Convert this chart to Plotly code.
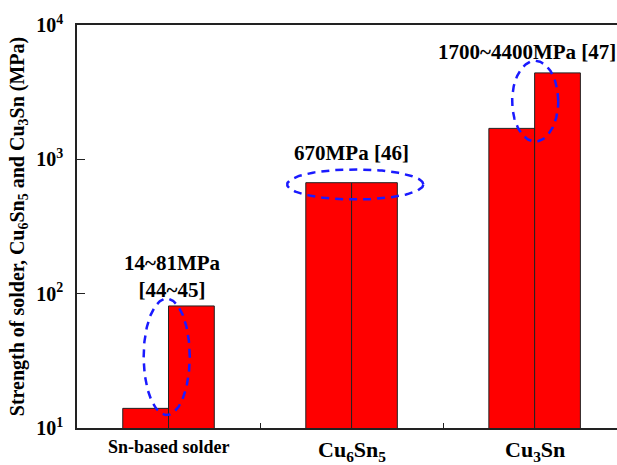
import numpy as np
import plotly.graph_objects as go

# ---- data ----
categories = ["Sn-based solder", "Cu<sub>6</sub>Sn<sub>5</sub>", "Cu<sub>3</sub>Sn"]
cat_pos = [0, 1, 2]
strength_min = [14, 670, 1700]
strength_max = [81, 670, 4400]
ytick_vals = [10, 100, 1000, 10000]
ytick_text = ["10<sup>1</sup>", "10<sup>2</sup>", "10<sup>3</sup>", "10<sup>4</sup>"]
labels = ["14~81MPa<br>[44~45]", "670MPa [46]", "1700~4400MPa [47]"]

FONT = "Liberation Serif"
RED = "#ff0000"
EDGE = "#222222"

fig = go.Figure()
fig.add_trace(go.Bar(x=cat_pos, y=strength_min, marker=dict(color=RED, line=dict(color=EDGE, width=1)),
                     showlegend=False, hoverinfo="skip"))
fig.add_trace(go.Bar(x=cat_pos, y=strength_max, marker=dict(color=RED, line=dict(color=EDGE, width=1)),
                     showlegend=False, hoverinfo="skip"))

# dashed ellipses (centre x, centre log10 y, half-width, half-height in decades)
ellipses = [(-0.01, 1.53, 0.126, 0.433), (1.02, 2.813, 0.372, 0.112), (2.003, 3.433, 0.126, 0.30)]
t = np.linspace(0, 2 * np.pi, 200)
for cx, cy, rx, ry in ellipses:
    fig.add_trace(go.Scatter(x=cx + rx * np.cos(t), y=10 ** (cy + ry * np.sin(t)), mode="lines",
                             line=dict(color="#1a1aff", width=2.5, dash="8px,6px"),
                             showlegend=False, hoverinfo="skip"))

# value labels
label_pos = [(0.02, 0.375), (1.0, 0.682), (1.96, 0.933)]
for (lx, ly), txt in zip(label_pos, labels):
    fig.add_annotation(x=lx, y=ly, xref="x", yref="paper", text="<b>" + txt + "</b>", showarrow=False,
                       font=dict(family=FONT, size=21, color="black"), xanchor="center", yanchor="middle")

# category labels
cat_sizes = [18, 22, 22]
for xp, name, fs in zip(cat_pos, categories, cat_sizes):
    fig.add_annotation(x=xp, y=0, xref="x", yref="paper", text="<b>" + name + "</b>", showarrow=False,
                       font=dict(family=FONT, size=fs, color="black"), xanchor="center", yanchor="top",
                       yshift=-7)

fig.update_layout(
    width=617, height=465,
    margin=dict(l=77, r=0, t=25, b=37),
    paper_bgcolor="white", plot_bgcolor="white",
    barmode="group", bargap=0.5, bargroupgap=0,
    font=dict(family=FONT, color="black"),
)
fig.update_xaxes(range=[-0.5, 2.45], showgrid=False, zeroline=False, showline=True, linecolor="#222",
                 linewidth=1.5, mirror=True, tickvals=[0.5, 1.5], showticklabels=False, ticks="inside",
                 ticklen=5, tickcolor="#222")
fig.update_yaxes(type="log", range=[1, 4], showgrid=False, zeroline=False, showline=True, linecolor="#222",
                 linewidth=1.5, tickvals=ytick_vals, ticktext=["<b>" + s + "</b>" for s in ytick_text],
                 ticks="inside", ticklen=8, tickcolor="#222", tickfont=dict(family=FONT, size=20),
                 ticklabelstandoff=8,
                 title=dict(text="<b>Strength of solder, Cu<sub>6</sub>Sn<sub>5</sub> and Cu<sub>3</sub>Sn (MPa)</b>",
                            font=dict(family=FONT, size=20), standoff=6))

fig.write_html("out.html")
